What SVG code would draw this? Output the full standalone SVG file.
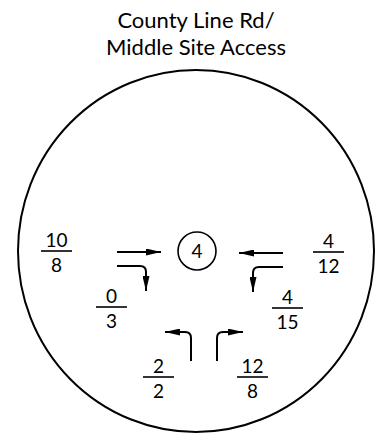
<svg xmlns="http://www.w3.org/2000/svg" width="376" height="434" viewBox="0 0 376 434">
<style>
text{font-family:Lato,"Noto Sans",sans-serif;fill:#000}
.t{font-size:22px;text-anchor:middle}
.n{font-size:19px;text-anchor:middle}
.ln{stroke:#000;stroke-width:2;fill:none}
.fr{stroke:#000;stroke-width:1.6}
</style>
<defs>
<marker id="ah" markerWidth="15" markerHeight="7" refX="15" refY="3.5" orient="auto" markerUnits="userSpaceOnUse">
<path d="M0,0 L15,3.5 L0,7 Z" fill="#000"/>
</marker>
</defs>
<rect width="376" height="434" fill="#fff"/>
<g id="title">
<text class="t" x="196" y="28">County Line Rd/</text>
<text class="t" x="196" y="55">Middle Site Access</text>
</g>
<g id="boundary">
<ellipse cx="196" cy="251" rx="178" ry="181" fill="none" stroke="#000" stroke-width="2"/>
</g>
<g id="node-center">
<circle cx="197" cy="251" r="19" fill="none" stroke="#000" stroke-width="1.6"/>
<text class="n" x="197" y="258">4</text>
</g>
<g id="connectors">
<path class="ln" d="M117,252 H161" marker-end="url(#ah)"/>
<path class="ln" d="M117,266 H140 Q146,266 146,272 V291" marker-end="url(#ah)"/>
<path class="ln" d="M283,253 H239" marker-end="url(#ah)"/>
<path class="ln" d="M283,267 H259 Q253,267 253,273 V292" marker-end="url(#ah)"/>
<path class="ln" d="M191,361 V338 Q191,332 185,332 H165" marker-end="url(#ah)"/>
<path class="ln" d="M217,361 V338 Q217,332 223,332 H243" marker-end="url(#ah)"/>
</g>
<g id="vol-eb">
<text class="n" x="56.5" y="247">10</text>
<line class="fr" x1="41" y1="251" x2="72" y2="251"/>
<text class="n" x="56.5" y="272">8</text>
</g>
<g id="vol-eb-rt">
<text class="n" x="111.5" y="303">0</text>
<line class="fr" x1="96" y1="307" x2="127" y2="307"/>
<text class="n" x="111.5" y="328">3</text>
</g>
<g id="vol-wb">
<text class="n" x="328.5" y="248">4</text>
<line class="fr" x1="313" y1="252" x2="344" y2="252"/>
<text class="n" x="328.5" y="273">12</text>
</g>
<g id="vol-wb-lt">
<text class="n" x="287.5" y="304">4</text>
<line class="fr" x1="272" y1="308" x2="303" y2="308"/>
<text class="n" x="287.5" y="329">15</text>
</g>
<g id="vol-nb-lt">
<text class="n" x="158.5" y="373">2</text>
<line class="fr" x1="143" y1="377" x2="174" y2="377"/>
<text class="n" x="158.5" y="398">2</text>
</g>
<g id="vol-nb-rt">
<text class="n" x="252.5" y="373">12</text>
<line class="fr" x1="237" y1="377" x2="268" y2="377"/>
<text class="n" x="252.5" y="398">8</text>
</g>
</svg>
